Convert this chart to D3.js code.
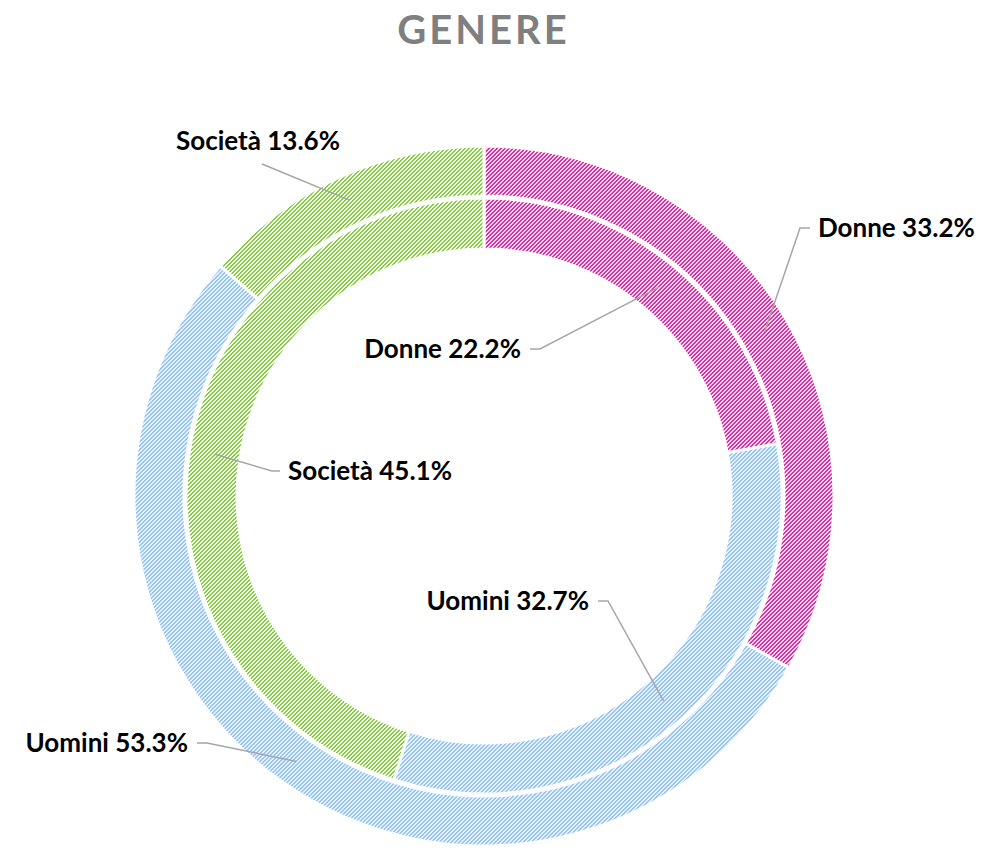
<!DOCTYPE html>
<html>
<head>
<meta charset="utf-8">
<script src="https://cdn.jsdelivr.net/npm/d3@7"></script>
<style>
  body { margin: 0; background: #fff; }
  svg text { font-family: Lato, "Open Sans", sans-serif; font-weight: bold; }
</style>
</head>
<body>
<div id="chart"></div>
<script>
var w = 987;
var h = 852;

// data
var categories = ["Donne", "Uomini", "Società"];
var outerValues = [33.2, 53.3, 13.6];
var innerValues = [22.2, 32.7, 45.1];

// colours for the hatch patterns
var fgColors = ["#d8339f", "#98c6f6", "#80d038"];
var bgColors = ["#fbd4ee", "#e4f0fd", "#ffffff"];

// label placement (elbow point, horizontal tail, text side)
var outerLabels = [
  {x: 800, y: 228, tail: 10, side: "right"},
  {x: 207, y: 743, tail: -10, side: "left"},
  {x: 262, y: 164, tail: 0, side: "above"}
];
var innerLabels = [
  {x: 540, y: 349, tail: -10, side: "left"},
  {x: 608, y: 601, tail: -10, side: "left"},
  {x: 272, y: 471, tail: 8, side: "right"}
];

var cx = 484, cy = 496;

var svg = d3.select("#chart").append("svg")
  .attr("width", w)
  .attr("height", h);

// "upward diagonal" pixel hatch: pixel on when (x+y)%4 < 2
var defs = svg.append("defs");
categories.forEach(function(c, i) {
  var p = defs.append("pattern")
    .attr("id", "hatch" + i)
    .attr("patternUnits", "userSpaceOnUse")
    .attr("width", 4)
    .attr("height", 4);
  p.append("rect").attr("width", 4).attr("height", 4).attr("fill", bgColors[i]);
  for (var x = 0; x < 4; x++) {
    for (var y = 0; y < 4; y++) {
      if ((x + y) % 4 < 2) {
        p.append("rect")
          .attr("x", x).attr("y", y)
          .attr("width", 1).attr("height", 1)
          .attr("fill", fgColors[i])
          .attr("shape-rendering", "crispEdges");
      }
    }
  }
});

svg.append("text")
  .attr("x", w/2 - 10)
  .attr("y", 44)
  .attr("text-anchor", "middle")
  .attr("fill", "#7f7f7f")
  .attr("font-size", 40)
  .attr("letter-spacing", 3)
  .text("GENERE");

var pie = d3.pie().sort(null).value(function(d) { return d; });

var g = svg.append("g").attr("transform", "translate(" + cx + "," + cy + ")");

function drawRing(values, r0, r1, labels) {
  var arc = d3.arc().innerRadius(r0).outerRadius(r1);
  var arcs = pie(values);
  g.selectAll(null)
    .data(arcs)
    .enter()
    .append("path")
    .attr("d", arc)
    .attr("fill", function(d, i) { return "url(#hatch" + i + ")"; })
    .attr("stroke", "#fff")
    .attr("stroke-width", 3);

  var mid = (r0 + r1) / 2;
  arcs.forEach(function(d, i) {
    var a = (d.startAngle + d.endAngle) / 2;
    var px = cx + mid * Math.sin(a);
    var py = cy - mid * Math.cos(a);
    var L = labels[i];
    var pts = [[px, py], [L.x, L.y]];
    if (L.tail) pts.push([L.x + L.tail, L.y]);
    svg.append("path")
      .attr("d", d3.line()(pts))
      .attr("fill", "none")
      .attr("stroke", "#a6a6a6")
      .attr("stroke-width", 1.5);
    var t = svg.append("text")
      .attr("font-size", 26)
      .attr("fill", "#000")
      .text(categories[i] + " " + d.data.toFixed(1) + "%");
    if (L.side == "right") {
      t.attr("x", L.x + L.tail + 8).attr("y", L.y + 9).attr("text-anchor", "start");
    } else if (L.side == "left") {
      t.attr("x", L.x + L.tail - 9).attr("y", L.y + 9).attr("text-anchor", "end");
    } else {
      t.attr("x", L.x - 4).attr("y", L.y - 14).attr("text-anchor", "middle");
    }
  });
}

drawRing(outerValues, 300, 350, outerLabels);
drawRing(innerValues, 247, 298, innerLabels);
</script>
</body>
</html>
